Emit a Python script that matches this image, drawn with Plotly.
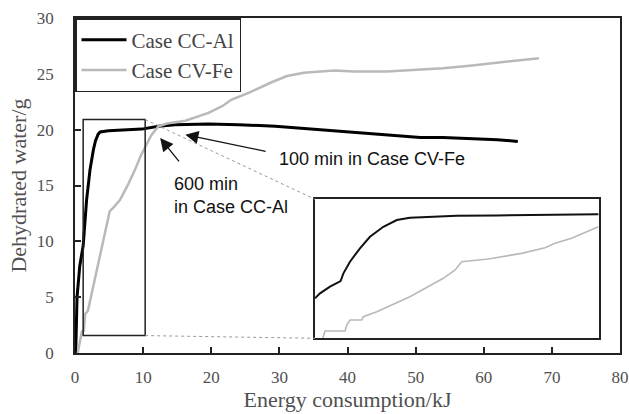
import plotly.graph_objects as go

# ---- main data ----
cc_x = [0.1, 0.3, 0.7, 1.2, 1.7, 2.2, 2.7, 3.0, 3.4, 3.7, 4.9, 7.0, 9.8, 12.25, 14.7, 19.6, 24.0, 29.4, 36.0, 43.4, 50.7, 54.0, 58.5, 62.0, 65.0]
cc_y = [0.0, 5.0, 7.8, 9.6, 13.7, 16.4, 18.2, 19.0, 19.6, 19.8, 19.9, 19.95, 20.05, 20.3, 20.45, 20.5, 20.45, 20.3, 20.0, 19.65, 19.3, 19.3, 19.2, 19.1, 18.95]

cv_x = [0.4, 0.9, 1.0, 1.3, 1.5, 1.9, 5.1, 5.6, 6.6, 7.8, 8.8, 9.6, 10.3, 11.2, 12.25, 13.5, 16.2, 19.6, 21.6, 23.0, 25.5, 28.7, 31.1, 33.6, 38.0, 41.0, 45.8, 50.7, 54.0, 58.3, 63.5, 68.1]
cv_y = [0.0, 1.6, 1.9, 2.0, 3.5, 3.8, 12.7, 13.0, 13.7, 15.1, 16.4, 17.6, 18.5, 19.5, 20.3, 20.55, 20.8, 21.5, 22.1, 22.7, 23.3, 24.2, 24.8, 25.1, 25.3, 25.2, 25.2, 25.4, 25.5, 25.75, 26.1, 26.4]

# ---- inset data (magnified view of the boxed region) ----
in_cc_x = [1.2, 1.36, 1.68, 2.02, 2.11, 2.32, 2.64, 2.96, 3.39, 3.82, 4.24, 4.78, 5.74, 7.0, 8.5, 10.28]
in_cc_y = [7.12, 7.82, 8.74, 9.53, 10.6, 12.22, 14.08, 15.69, 17.08, 18.02, 18.34, 18.47, 18.61, 18.65, 18.72, 18.81]
in_cv_x = [1.45, 1.52, 2.16, 2.22, 2.32, 2.70, 2.75, 3.18, 4.24, 5.31, 5.69, 5.90, 6.75, 7.82, 8.57, 8.89, 9.42, 10.28]
in_cv_y = [1.56, 2.58, 2.58, 3.41, 4.11, 4.11, 4.56, 5.26, 7.35, 9.91, 11.06, 12.22, 12.59, 13.38, 14.16, 14.77, 15.47, 17.08]

# zoom box on main chart
box_x = [1.2, 10.3]
box_y = [1.56, 20.9]

x_ticks = [0, 10, 20, 30, 40, 50, 60, 70, 80]
y_ticks = [0, 5, 10, 15, 20, 25, 30]

BLACK = "#000000"
GRAY = "#b9b9b9"
TXT = "#505050"
SERIF = "Liberation Serif"
SANS = "Liberation Sans"

fig = go.Figure()
fig.add_trace(go.Scatter(x=cc_x, y=cc_y, mode="lines", name="Case CC-Al",
                         line=dict(color=BLACK, width=3)))
fig.add_trace(go.Scatter(x=cv_x, y=cv_y, mode="lines", name="Case CV-Fe",
                         line=dict(color=GRAY, width=2.5)))
fig.add_trace(go.Scatter(x=in_cc_x, y=in_cc_y, mode="lines", showlegend=False,
                         line=dict(color="#111111", width=2), xaxis="x2", yaxis="y2"))
fig.add_trace(go.Scatter(x=in_cv_x, y=in_cv_y, mode="lines", showlegend=False,
                         line=dict(color=GRAY, width=1.6), xaxis="x2", yaxis="y2"))

inset_dom_x = [0.4404, 0.9615]
inset_dom_y = [0.0439, 0.4588]
XMAX, YMAX = 80, 30

axis_common = dict(showline=True, linecolor="#222222", linewidth=1.5, mirror=True,
                   ticks="inside", ticklen=6, tickcolor="#222222", tickwidth=1.5,
                   showgrid=False, zeroline=False, automargin=False,
                   tickfont=dict(family=SERIF, size=17, color=TXT))

fig.update_layout(
    width=629, height=414,
    margin=dict(l=75, r=9, t=18, b=61, autoexpand=False),
    plot_bgcolor="white", paper_bgcolor="white",
    xaxis=dict(range=[0, XMAX], tickvals=x_ticks, ticklabelstandoff=8,
               title=dict(text="Energy consumption/kJ", standoff=4,
                          font=dict(family=SERIF, size=22, color=TXT)),
               **axis_common),
    yaxis=dict(range=[0, YMAX], tickvals=y_ticks, ticklabelstandoff=16,
               title=dict(text="Dehydrated water/g", standoff=4,
                          font=dict(family=SERIF, size=22, color=TXT)),
               **axis_common),
    xaxis2=dict(domain=inset_dom_x, anchor="y2", range=box_x, showticklabels=False,
                showline=True, mirror=True, linecolor="#222222", linewidth=1.5,
                showgrid=False, zeroline=False, ticks=""),
    yaxis2=dict(domain=inset_dom_y, anchor="x2", range=box_y, showticklabels=False,
                showline=True, mirror=True, linecolor="#222222", linewidth=1.5,
                showgrid=False, zeroline=False, ticks=""),
    legend=dict(x=0, y=1, xanchor="left", yanchor="top",
                bordercolor="#222222", borderwidth=1.5, bgcolor="white",
                font=dict(family=SERIF, size=21, color="#444444"),
                itemwidth=45, entrywidth=175, entrywidthmode="pixels",
                tracegroupgap=0),
    showlegend=True,
)

# zoom rectangle on main chart
fig.add_shape(type="rect", xref="x", yref="y", x0=box_x[0], x1=box_x[1],
              y0=box_y[0], y1=box_y[1], line=dict(color="#222222", width=1.5))
# connector lines to inset
ins_left = inset_dom_x[0] * XMAX
ins_top = inset_dom_y[1] * YMAX
ins_bot = inset_dom_y[0] * YMAX
fig.add_shape(type="line", xref="x", yref="y", x0=box_x[1], y0=box_y[1],
              x1=ins_left, y1=ins_top, line=dict(color="#999999", width=1, dash="dot"))
fig.add_shape(type="line", xref="x", yref="y", x0=box_x[1], y0=box_y[0],
              x1=ins_left, y1=ins_bot, line=dict(color="#999999", width=1, dash="dot"))

# annotations with arrows
fig.add_annotation(x=16.2, y=19.55, ax=28.2, ay=18.03, xref="x", yref="y",
                   axref="x", ayref="y", text="", showarrow=True,
                   arrowhead=2, arrowsize=2, arrowwidth=1.3, arrowcolor="#111111")
fig.add_annotation(x=12.5, y=19.26, ax=15.44, ay=17.02, xref="x", yref="y",
                   axref="x", ayref="y", text="", showarrow=True,
                   arrowhead=2, arrowsize=2, arrowwidth=1.3, arrowcolor="#111111")
fig.add_annotation(x=29.6, y=17.4, xref="x", yref="y", xanchor="left", yanchor="middle",
                   text="100 min in Case CV-Fe", showarrow=False,
                   font=dict(family=SANS, size=18, color="#111111"))
fig.add_annotation(x=14.3, y=14.1, xref="x", yref="y", xanchor="left", yanchor="middle",
                   text="600 min<br>in Case CC-Al", showarrow=False, align="left",
                   font=dict(family=SANS, size=18, color="#111111"))

fig.write_html("out.html")
